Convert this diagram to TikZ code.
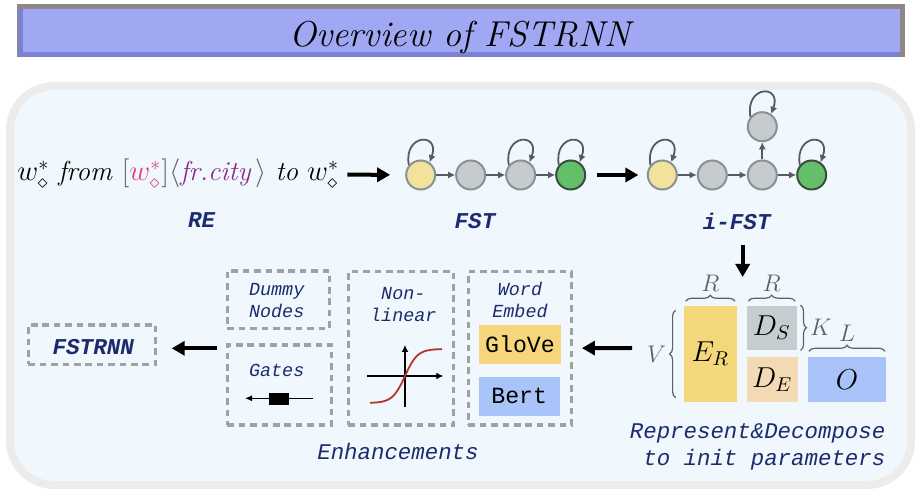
\documentclass[tikz,border=0pt]{standalone}
\usepackage{fontspec}
\newfontfamily\codefont{Liberation Mono}
\usetikzlibrary{arrows.meta,decorations.pathreplacing}
\definecolor{navy}{HTML}{1C2B6E}
\definecolor{titlebg}{HTML}{A0A8F4}
\definecolor{titledk}{HTML}{7C82D2}
\definecolor{titlegr}{HTML}{8D8884}
\definecolor{panelbg}{HTML}{F1F8FD}
\definecolor{panelrim}{HTML}{EBECEB}
\definecolor{dashgray}{HTML}{A0A3A3}
\definecolor{syellow}{HTML}{F2E29C}
\definecolor{sgray}{HTML}{C5CBCF}
\definecolor{sgreen}{HTML}{64BF6A}
\definecolor{srim}{HTML}{8A9195}
\definecolor{sdark}{HTML}{3D4A3F}
\definecolor{tedgec}{HTML}{565B60}
\definecolor{glovec}{HTML}{F5D67C}
\definecolor{bertc}{HTML}{A8C4F8}
\definecolor{erc}{HTML}{F3D77A}
\definecolor{dsc}{HTML}{C6CDD0}
\definecolor{dec}{HTML}{F3DAB5}
\definecolor{oc}{HTML}{A7C3F7}
\definecolor{pinkw}{HTML}{E33A8F}
\definecolor{purpc}{HTML}{8A2A8A}
\definecolor{lgray}{HTML}{5E6266}
\definecolor{sigred}{HTML}{B3362F}

\begin{document}
\begin{tikzpicture}[x=0.5pt,y=-0.5pt,
  state/.style={circle,line width=1pt,minimum size=14.5pt,inner sep=0},
  tedge/.style={draw=tedgec,line width=0.9pt,-{Latex[length=3.6pt,width=3.6pt]}},
  selfloop/.style={out=100,in=70,distance=16pt},
  bigarrow/.style={line width=2pt,-{Triangle[length=6.5pt,width=7pt]}},
  lbl/.style={text=navy,font=\codefont\itshape\fontsize{9.2}{11}\selectfont,align=center,inner sep=0},
  blbl/.style={text=navy,font=\codefont\bfseries\itshape\fontsize{11.3}{13.3}\selectfont,inner sep=0},
  mlbl/.style={text=navy,font=\codefont\itshape\fontsize{11.2}{13.3}\selectfont,inner sep=0},
  dbox/.style={draw=dashgray,line width=1.6pt,dash pattern=on 3.3pt off 2.4pt,inner sep=0},
  cell/.style={inner sep=0,font=\fontsize{14}{16}\selectfont},
  wbox/.style={inner sep=0,minimum width=40.7pt,minimum height=19.7pt,font=\codefont\fontsize{11.6}{13}\selectfont},
  brace/.style={draw=lgray,line width=0.6pt,decorate,decoration={brace,amplitude=3pt}},
  glbl/.style={text=lgray,inner sep=0,font=\fontsize{11.5}{13}\selectfont}]
\useasboundingbox (0,0) rectangle (922,496);
% title bar
\fill[titlegr] (17,4.3) rectangle (905.3,57.3);\fill[titledk] (18,9) rectangle (900,57.3);\fill[titlebg] (23,9) rectangle (900,52);
\node[anchor=base,inner sep=0,font=\itshape\fontsize{18}{20}\selectfont] (title) at (460,46.7){Overview of FSTRNN};
% panel
\draw[panelrim,fill=panelbg,line width=4pt,rounded corners=22pt] (10,86) rectangle (911,485);
% RE
\node[anchor=base west,inner sep=0,font=\fontsize{13.7}{15}\selectfont] (re) at (17,181)
  {$w^*_\diamond$ \textit{from} $\color{lgray}\big[\textcolor{pinkw}{w^*_\diamond}\big]\big\langle\textcolor{purpc}{\textit{fr.city}}\,\big\rangle$ \textit{to} $w^*_\diamond$};
\node[blbl] (relab) at (201.7,220){RE};
% FST
\foreach \n/\x/\c/\d in {f1/420.7/syellow/srim,f2/470.7/sgray/srim,f3/520.7/sgray/srim,f4/570.7/sgreen/sdark}{\node[state,fill=\c,draw=\d] (\n) at (\x,175){};}
\foreach \a/\b in {f1/f2,f2/f3,f3/f4}{\draw[tedge] (\a)--(\b);}
\foreach \a in {f1,f3,f4}{\draw[tedge] (\a.140) to[selfloop] (\a.55);}
\node[blbl] (fstlab) at (475,221){FST};
\draw[bigarrow,shorten <=4pt,shorten >=7.5pt] (re) -- (f1);
% i-FST
\foreach \n/\x/\y/\c/\d in {g1/662.3/175/syellow/srim,g2/712.3/175/sgray/srim,g3/762.3/175/sgray/srim,g4/811.7/175/sgreen/sdark,g5/762.3/126.7/sgray/srim}{\node[state,fill=\c,draw=\d] (\n) at (\x,\y){};}
\foreach \a/\b in {g1/g2,g2/g3,g3/g4,g3/g5}{\draw[tedge] (\a)--(\b);}
\foreach \a in {g1,g5,g4}{\draw[tedge] (\a.140) to[selfloop] (\a.55);}
\node[blbl] (ifstlab) at (736.7,221){i-FST};
\draw[bigarrow,shorten <=5.5pt,shorten >=4.2pt] (f4) -- (g1);
% decomposition
\coordinate (dtop) at (742.7,245);\coordinate (dbot) at (742.7,277);
\draw[bigarrow] (dtop) -- (dbot);
\node[cell,fill=erc,minimum width=26.3pt,minimum height=48.3pt] (er) at (710.3,354){$E_R$};
\node[cell,fill=dsc,minimum width=25pt,minimum height=22.2pt] (ds) at (771.7,327.8){$D_S$};
\node[cell,fill=dec,minimum width=25.5pt,minimum height=22.5pt] (de) at (772.2,379.8){$D_E$};
\node[cell,fill=oc,minimum width=38.7pt,minimum height=22.5pt] (o) at (847,379.8){$O$};
\draw[brace] ([xshift=1pt,yshift=2pt]er.north west) -- ([xshift=-1pt,yshift=2pt]er.north east) node[glbl,midway,above=4.5pt] (r1){$R$};
\draw[brace] ([xshift=1pt,yshift=2pt]ds.north west) -- ([xshift=-1pt,yshift=2pt]ds.north east) node[glbl,midway,above=4.5pt] (r2){$R$};
\draw[brace] ([xshift=-4pt,yshift=2.5pt]er.south west) -- ([xshift=-4pt,yshift=-2.5pt]er.north west) node[glbl,midway,left=4.5pt] (vlab){$V$};
\draw[brace] ([xshift=1.7pt]ds.north east) -- ([xshift=1.7pt]ds.south east) node[glbl,midway,right=4.5pt] (klab){$K$};
\draw[brace] ([xshift=0.5pt,yshift=2.8pt]o.north west) -- ([xshift=-0.5pt,yshift=2.8pt]o.north east) node[glbl,midway,above=4.5pt] (llab){$L$};
\node[mlbl,anchor=east,align=right] (rdlab) at (885.7,446.7){Represent\&Decompose\\to init parameters};
% enhancements
\node[dbox,minimum width=51.7pt,minimum height=76.7pt] (embbox) at (520,348.3){};
\node[lbl] (emblab) at (520,299.5){Word\\Embed};
\node[wbox,fill=glovec] (glove) at (520,344.7){GloVe};
\node[wbox,fill=bertc] (bert) at (519.2,396.3){Bert};
\node[dbox,minimum width=52.5pt,minimum height=76.7pt] (nlbox) at (400.8,348.3){};
\node[lbl] (nllab) at (403.3,305){Non-\\linear};
\coordinate (hl) at (366.7,376);\coordinate (hr) at (443.3,376);\coordinate (vb) at (405,406.7);\coordinate (vt) at (405,345);
\draw[line width=0.6pt,-{Latex[length=3.5pt,width=3.5pt]}] (hl) -- (hr);\draw[line width=0.6pt,-{Latex[length=3.5pt,width=3.5pt]}] (vb) -- (vt);
\draw[sigred,line width=0.9pt] plot[domain=-35:37,samples=60] ({405+\x},{376-27*tanh(\x/12.5)});
\node[dbox,minimum width=51pt,minimum height=28.7pt] (dummybox) at (278.3,299.7){};
\node[lbl] (dummylab) at (276.7,301){Dummy\\Nodes};
\node[dbox,minimum width=52.2pt,minimum height=40pt] (gatebox) at (279.5,385){};
\node[lbl] (gatelab) at (276.7,370){Gates};
\node[fill=black,inner sep=0,minimum width=10pt,minimum height=6.2pt] (gsym) at (279.3,398.8){};
\coordinate (gr) at (313.3,398.3);\coordinate (gl) at (245,398.3);
\draw[line width=0.6pt,-{Latex[length=3.5pt,width=3pt]}] (gr) -- (gl);
\node[mlbl] (enhlab) at (398,451){Enhancements};
\coordinate (mleft) at (632,348);
\draw[bigarrow,shorten >=4.3pt] (mleft) -- (embbox);
% output
\node[dbox,minimum width=63.7pt,minimum height=19.7pt] (fstrnn) at (92,344.7){};
\node[blbl] (fstrnnlab) at (93.3,346.7){FSTRNN};
\coordinate (eleft) at (217,348.3);
\draw[bigarrow,shorten >=7.2pt] (eleft) -- (eleft -| fstrnn.east);
\end{tikzpicture}
\end{document}
